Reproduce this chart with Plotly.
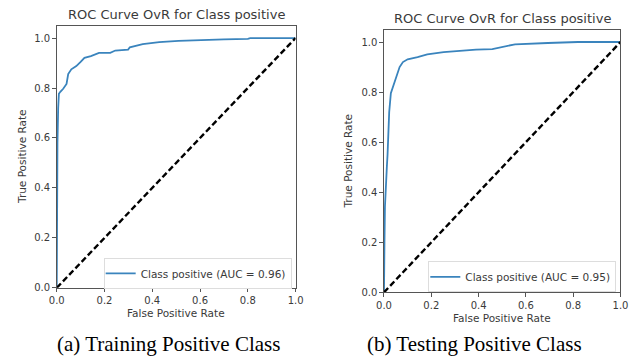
import plotly.graph_objects as go

# ---- data ----
fpr_train = [0, 0, 0.003, 0.006, 0.009, 0.015, 0.027, 0.041, 0.045, 0.048, 0.061, 0.082, 0.1,
             0.116, 0.143, 0.177, 0.224, 0.245, 0.299, 0.306, 0.36, 0.429, 0.51, 0.6, 0.7, 0.8, 0.81, 1.0]
tpr_train = [0, 0.47, 0.58, 0.72, 0.777, 0.785, 0.797, 0.816, 0.84, 0.856, 0.875, 0.888, 0.905,
             0.921, 0.928, 0.941, 0.941, 0.95, 0.954, 0.963, 0.976, 0.984, 0.989, 0.993, 0.995, 0.997, 1.0, 1.0]

fpr_test = [0, 0, 0.002, 0.004, 0.008, 0.012, 0.015, 0.018, 0.022, 0.029, 0.038, 0.045, 0.052, 0.066,
            0.08, 0.1, 0.142, 0.183, 0.252, 0.32, 0.389, 0.458, 0.5, 0.554, 0.692, 0.82, 1.0]
tpr_test = [0, 0.07, 0.2, 0.343, 0.45, 0.5, 0.55, 0.665, 0.72, 0.796, 0.822, 0.84, 0.861, 0.9,
            0.92, 0.931, 0.94, 0.951, 0.96, 0.966, 0.97, 0.972, 0.98, 0.991, 0.996, 1.0, 1.0]

chance = [0, 1]
tick_vals = [0, 0.2, 0.4, 0.6, 0.8, 1.0]
tick_text = ["0.0", "0.2", "0.4", "0.6", "0.8", "1.0"]

title_text = "ROC Curve OvR for Class positive"
label_train = "Class positive (AUC = 0.96)"
label_test = "Class positive (AUC = 0.95)"
caption_train = "(a) Training Positive Class"
caption_test = "(b) Testing Positive Class"
xlabel = "False Positive Rate"
ylabel = "True Positive Rate"

# ---- style ----
W, H = 636, 362
LINE = "#3a84bd"
TXT = "#3a3a3a"
SPINE = "#555555"
FONT = "DejaVu Sans"

def px_x(p):
    return p / W

def px_y(p):
    return 1 - p / H

fig = go.Figure()

fig.add_trace(go.Scatter(x=fpr_train, y=tpr_train, mode="lines", name=label_train,
                         line=dict(color=LINE, width=1.8), xaxis="x", yaxis="y", legend="legend"))
fig.add_trace(go.Scatter(x=chance, y=chance, mode="lines", showlegend=False,
                         line=dict(color="black", width=2.4, dash="6px,3px"), xaxis="x", yaxis="y"))
fig.add_trace(go.Scatter(x=fpr_test, y=tpr_test, mode="lines", name=label_test,
                         line=dict(color=LINE, width=1.8), xaxis="x2", yaxis="y2", legend="legend2"))
fig.add_trace(go.Scatter(x=chance, y=chance, mode="lines", showlegend=False,
                         line=dict(color="black", width=2.4, dash="6px,3px"), xaxis="x2", yaxis="y2"))

axis_common = dict(showline=True, mirror=True, linecolor=SPINE, linewidth=1.2,
                   ticks="outside", ticklen=3.5, tickcolor=SPINE, tickwidth=1,
                   showgrid=False, zeroline=False, tickvals=tick_vals, ticktext=tick_text,
                   tickfont=dict(family=FONT, size=10, color=TXT))

L_dom_x = [px_x(50), px_x(295)]
L_dom_y = [px_y(292.7), px_y(26)]
R_dom_x = [px_x(385.7), px_x(628.3)]
R_dom_y = [px_y(297.3), px_y(30)]

legend_common = dict(xanchor="right", yanchor="middle",
                     bgcolor="rgba(255,255,255,0.8)", bordercolor="#dddddd", borderwidth=1,
                     font=dict(family=FONT, size=10.5, color=TXT), itemwidth=30,
                     tracegroupgap=0, indentation=-4)

fig.update_layout(
    width=W, height=H, margin=dict(l=0, r=0, t=0, b=0),
    paper_bgcolor="white", plot_bgcolor="white",
    xaxis=dict(domain=L_dom_x, range=[0, 1], anchor="y", **axis_common),
    yaxis=dict(domain=L_dom_y, range=[0, 1.05], anchor="x", **axis_common),
    xaxis2=dict(domain=R_dom_x, range=[0, 1], anchor="y2", **axis_common),
    yaxis2=dict(domain=R_dom_y, range=[0, 1.05], anchor="x2", **axis_common),
    legend=dict(x=px_x(291), y=px_y(278), **legend_common),
    legend2=dict(x=px_x(624), y=px_y(281.5), **legend_common),
    showlegend=True,
)

ann = []
def text(x, y, s, size, family=FONT, color=TXT, angle=0):
    ann.append(dict(x=px_x(x), y=px_y(y), xref="paper", yref="paper", text=s, showarrow=False,
                    xanchor="center", yanchor="middle", textangle=angle,
                    font=dict(family=family, size=size, color=color)))

text(172.5, 15, title_text, 13)
text(507, 19, title_text, 13)
text(172.5, 318, xlabel, 10.5)
text(507, 323, xlabel, 10.5)
text(15, 159, ylabel, 10.5, angle=-90)
text(349, 164, ylabel, 10.5, angle=-90)
text(165, 350, caption_train, 21, family="Liberation Serif", color="black")
text(479, 350, caption_test, 21, family="Liberation Serif", color="black")
fig.update_layout(annotations=ann)

fig.write_html("out.html")
